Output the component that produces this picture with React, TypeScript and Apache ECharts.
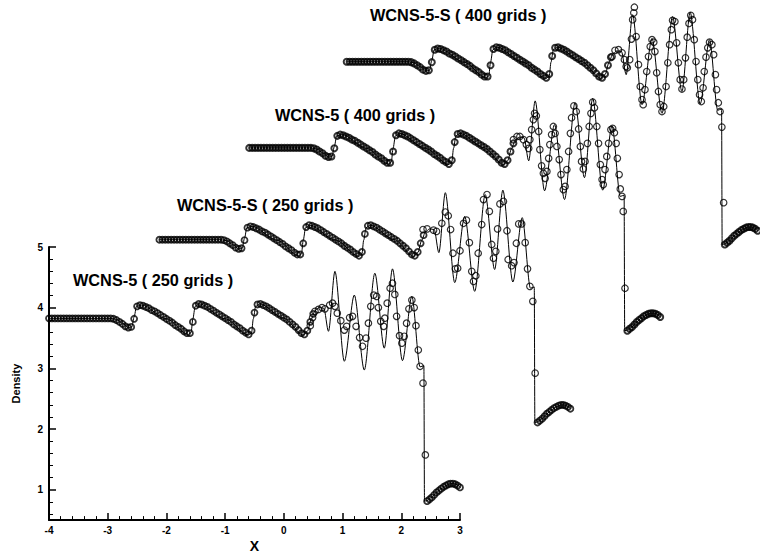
import React, { useEffect, useRef } from "react";
import * as echarts from "echarts";

// Axis ticks
const xTicks = [-4, -3, -2, -1, 0, 1, 2, 3];
const yMajorTicks = [1, 2, 3, 4, 5];
const yMinorTicks = [0.6, 0.8, 1.2, 1.4, 1.6, 1.8, 2.2, 2.4, 2.6, 2.8, 3.2, 3.4, 3.6, 3.8, 4.2, 4.4, 4.6, 4.8];

// The four runs, stacked with an offset in x and in density
const curveTitles = ["WCNS-5 ( 250 grids )", "WCNS-5-S ( 250 grids )", "WCNS-5 ( 400 grids )", "WCNS-5-S ( 400 grids )"];
const curveShiftX = [0, 1.88, 3.41, 5.07];
const curveShiftY = [0, 1.26, 2.73, 4.11];

// Reference (fine-grid) density profile, drawn as the solid line
const exactX = [-4.0, -2.95, -2.85, -2.75, -2.65, -2.59, -2.55, -2.51, -2.42, -2.0, -1.63, -1.58, -1.55, -1.51, -1.44, -1.0, -0.6, -0.55, -0.52, -0.48, -0.41, 0.0, 0.33, 0.4, 0.47, 0.53, 0.6, 0.68, 0.76, 0.87, 1.03, 1.2, 1.37, 1.55, 1.71, 1.85, 2.02, 2.18, 2.32, 2.385, 2.395, 2.44, 2.52, 2.6, 2.68, 2.76, 2.84, 2.9, 2.96, 3.0];
const exactRho = [3.857, 3.857, 3.84, 3.78, 3.71, 3.72, 3.88, 4.05, 4.07, 3.85, 3.6, 3.63, 3.85, 4.05, 4.09, 3.85, 3.59, 3.63, 3.85, 4.05, 4.09, 3.86, 3.59, 3.65, 3.85, 3.98, 4.03, 4.02, 3.65, 4.61, 3.17, 4.23, 3.03, 4.58, 3.38, 4.65, 3.18, 4.21, 3.08, 3.1, 0.93, 0.94, 0.99, 1.07, 1.13, 1.18, 1.21, 1.21, 1.19, 1.15];

// Computed values ahead of the high-frequency zone (x = -4 .. 0.5, step 0.05)
const preWaveStartX = -4;
const preWaveStep = 0.05;
const preWaveRho = [
  3.857, 3.857, 3.857, 3.857, 3.857, 3.857, 3.857, 3.857, 3.857, 3.857, 3.857,
  3.857, 3.857, 3.857, 3.857, 3.857, 3.857, 3.857, 3.857, 3.857, 3.857, 3.857,
  3.85, 3.83, 3.8, 3.77, 3.73, 3.71, 3.72, 3.85, 4.05, 4.07, 4.06, 4.04, 4.02, 3.99,
  3.97, 3.94, 3.91, 3.88, 3.85, 3.82, 3.79, 3.75, 3.72, 3.69, 3.65, 3.62, 3.62, 3.8,
  4.06, 4.09, 4.08, 4.06, 4.04, 4.01, 3.98, 3.95, 3.92, 3.89, 3.86, 3.83, 3.8, 3.76,
  3.73, 3.7, 3.66, 3.63, 3.6, 3.66, 3.95, 4.08, 4.09, 4.07, 4.05, 4.02, 3.99, 3.96,
  3.93, 3.9, 3.87, 3.84, 3.8, 3.76, 3.72, 3.67, 3.62, 3.6, 3.66, 3.8, 3.93,
];

// Computed values behind the shock (x = 2.44 .. 3.0, step 0.04)
const postShockStartX = 2.44;
const postShockStep = 0.04;
const postShockRho = [0.93, 0.96, 0.99, 1.03, 1.07, 1.1, 1.13, 1.16, 1.18, 1.2, 1.21, 1.21, 1.2, 1.18, 1.15];

// Computed values in the high-frequency zone, one list per run: [x, density]
const wcns5Grid250: [number, number][] = [
  [0.45, 3.74], [0.49, 3.87], [0.53, 3.97], [0.59, 4.0], [0.65, 4.03], [0.7, 4.01], [0.78, 4.07], [0.83, 4.1],
  [0.87, 4.05], [0.91, 3.94], [0.97, 3.82], [1.03, 3.67], [1.07, 3.73], [1.12, 3.87], [1.17, 3.89], [1.23, 3.73],
  [1.29, 3.55], [1.34, 3.41], [1.4, 3.54], [1.44, 3.78], [1.48, 4.05], [1.53, 4.23], [1.58, 4.21], [1.61, 4.03],
  [1.65, 3.81], [1.7, 3.73], [1.72, 3.86], [1.76, 4.1], [1.81, 4.34], [1.85, 4.42], [1.89, 4.24], [1.92, 3.89],
  [1.97, 3.58], [2.01, 3.46], [2.05, 3.57], [2.09, 3.78], [2.13, 4.01], [2.18, 4.15], [2.22, 4.03], [2.25, 3.74],
  [2.29, 3.35], [2.32, 3.09], [2.37, 2.82], [2.41, 1.67],
];
const wcns5sGrid250: [number, number][] = [
  [0.49, 4.02], [0.56, 4.03], [0.67, 4.01], [0.72, 3.99], [0.81, 4.12], [0.87, 4.3], [0.92, 4.24], [0.96, 4.02],
  [1.0, 3.64], [1.04, 3.39], [1.08, 3.4], [1.12, 3.68], [1.18, 4.12], [1.23, 4.17], [1.28, 3.81], [1.32, 3.35],
  [1.35, 3.19], [1.39, 3.28], [1.43, 3.64], [1.49, 4.1], [1.52, 4.5], [1.58, 4.58], [1.62, 4.31], [1.66, 3.78],
  [1.69, 3.56], [1.73, 3.67], [1.76, 4.03], [1.8, 4.43], [1.86, 4.47], [1.92, 4.0], [1.94, 3.54], [2.0, 3.44],
  [2.04, 3.49], [2.08, 3.8], [2.12, 4.11], [2.17, 4.11], [2.23, 3.81], [2.27, 3.39], [2.31, 3.11], [2.36, 2.87],
  [2.4, 1.72],
];
const wcns5Grid400: [number, number][] = [
  [0.5, 3.99], [0.56, 4.04], [0.61, 4.04], [0.67, 3.99], [0.72, 3.91], [0.76, 3.85], [0.78, 3.99], [0.81, 4.15],
  [0.84, 4.31], [0.86, 4.41], [0.89, 4.37], [0.93, 4.12], [0.95, 3.83], [0.98, 3.57], [1.01, 3.45], [1.04, 3.37],
  [1.07, 3.48], [1.1, 3.69], [1.12, 3.91], [1.15, 4.07], [1.18, 4.2], [1.21, 4.09], [1.24, 3.88], [1.28, 3.67],
  [1.31, 3.43], [1.35, 3.19], [1.38, 3.24], [1.41, 3.51], [1.44, 3.8], [1.47, 4.09], [1.49, 4.34], [1.53, 4.53],
  [1.57, 4.44], [1.61, 4.16], [1.64, 3.88], [1.66, 3.64], [1.69, 3.52], [1.72, 3.64], [1.76, 3.93], [1.79, 4.2],
  [1.82, 4.41], [1.85, 4.59], [1.88, 4.5], [1.92, 4.2], [1.95, 3.93], [1.98, 3.59], [2.01, 3.35], [2.03, 3.27],
  [2.06, 3.51], [2.09, 3.72], [2.12, 3.93], [2.16, 4.15], [2.19, 4.17], [2.22, 4.1], [2.25, 3.93], [2.27, 3.69],
  [2.3, 3.43], [2.32, 3.2], [2.35, 3.08], [2.37, 2.84], [2.4, 1.61],
];
const wcns5sGrid400: [number, number][] = [
  [0.52, 3.94], [0.57, 4.04], [0.63, 4.05], [0.69, 4.0], [0.73, 3.89], [0.76, 3.78], [0.78, 3.76], [0.82, 3.89],
  [0.85, 4.22], [0.87, 4.53], [0.89, 4.64], [0.9, 4.73], [0.93, 4.26], [0.97, 3.81], [1.0, 3.46], [1.03, 3.25],
  [1.05, 3.17], [1.08, 3.41], [1.11, 3.7], [1.14, 3.94], [1.17, 4.1], [1.2, 4.21], [1.23, 4.17], [1.25, 4.02],
  [1.28, 3.68], [1.31, 3.38], [1.34, 3.17], [1.37, 3.06], [1.4, 3.14], [1.44, 3.46], [1.47, 3.84], [1.5, 4.13],
  [1.53, 4.37], [1.55, 4.52], [1.59, 4.5], [1.62, 4.16], [1.65, 3.84], [1.68, 3.57], [1.71, 3.42], [1.74, 3.57],
  [1.77, 3.92], [1.8, 4.25], [1.83, 4.47], [1.86, 4.6], [1.89, 4.53], [1.92, 4.21], [1.95, 3.86], [1.98, 3.57],
  [2.01, 3.33], [2.04, 3.22], [2.07, 3.44], [2.09, 3.7], [2.12, 3.93], [2.15, 4.08], [2.18, 4.17], [2.22, 4.13],
  [2.25, 3.97], [2.28, 3.65], [2.3, 3.41], [2.33, 3.2], [2.36, 3.06], [2.39, 2.81], [2.42, 1.6],
];
const highFreqPoints = [wcns5Grid250, wcns5sGrid250, wcns5Grid400, wcns5sGrid400];

const W = 760;
const H = 559;
const FONT = '"Liberation Sans", Arial, sans-serif';

export default function App() {
  const ref = useRef<HTMLDivElement>(null);

  useEffect(() => {
    document.body.style.margin = "0";
    if (!ref.current) return;
    const chart = echarts.init(ref.current, undefined, { renderer: "svg" });

    // Framed plot area (x -4..3, density 0.5..5)
    const plotLeft = 49;
    const plotTop = 247;
    const plotWidth = 411;
    const plotHeight = 281;
    const xMin = -4, xMax = 3, yMin = 0.5, yMax = 5;
    const pxPerX = plotWidth / (xMax - xMin);
    const pxPerY = plotHeight / (yMax - yMin);
    // Unframed full-canvas area with the same scale, for the shifted runs
    const fullRight = W - plotLeft;
    const fullBottom = plotTop + plotHeight;
    const fullXMax = xMin + fullRight / pxPerX;
    const fullYMax = yMin + fullBottom / pxPerY;

    const preWave: [number, number][] = preWaveRho.map((r, i) => [preWaveStartX + i * preWaveStep, r]);
    const postShock: [number, number][] = postShockRho.map((r, i) => [postShockStartX + i * postShockStep, r]);

    const circleStyle = (w: number) => ({ color: "rgba(255,255,255,0)", borderColor: "#000", borderWidth: w });

    const series: any[] = [];
    curveTitles.forEach((name, k) => {
      const dx = curveShiftX[k];
      const dy = curveShiftY[k];
      const shift = (pts: [number, number][]) => pts.map(([x, r]) => [x + dx, r + dy]);
      series.push({
        name: name + " exact",
        type: "line",
        xAxisIndex: 1,
        yAxisIndex: 2,
        data: exactX.map((x, i) => [x + dx, exactRho[i] + dy]),
        smooth: 0.3,
        smoothMonotone: "x",
        showSymbol: false,
        symbol: "none",
        silent: true,
        lineStyle: { color: "#000", width: 1 },
        z: 2,
      });
      // densely packed circles in the smooth parts merge into a heavy band
      series.push({
        name,
        type: "scatter",
        xAxisIndex: 1,
        yAxisIndex: 2,
        data: shift([...preWave, ...postShock]),
        symbol: "circle",
        symbolSize: 6,
        silent: true,
        itemStyle: circleStyle(k >= 2 ? 2 : 1.8),
        z: 3,
      });
      series.push({
        name,
        type: "scatter",
        xAxisIndex: 1,
        yAxisIndex: 2,
        data: shift(highFreqPoints[k]),
        symbol: "circle",
        symbolSize: 6.5,
        silent: true,
        itemStyle: circleStyle(1.2),
        z: 3,
      });
    });

    const titlePos = [
      [73, 280],
      [177, 205],
      [275, 115],
      [370, 15],
    ];

    const labelStyle = { color: "#000", fontWeight: "bold" as const, fontSize: 10, fontFamily: FONT };

    chart.setOption({
      animation: false,
      backgroundColor: "#fff",
      grid: [
        { left: plotLeft, top: plotTop, width: plotWidth, height: plotHeight, containLabel: false },
        { left: plotLeft, top: 0, width: fullRight, height: fullBottom, containLabel: false },
      ],
      xAxis: [
        {
          gridIndex: 0,
          type: "value",
          position: "bottom",
          min: xMin,
          max: xMax,
          interval: 1,
          axisLine: { show: true, onZero: false, lineStyle: { color: "#000", width: 2 } },
          axisTick: { show: true, inside: true, length: 7, lineStyle: { color: "#000", width: 1.5 } },
          minorTick: { show: true, splitNumber: 5, length: 4, lineStyle: { color: "#000", width: 1 } },
          splitLine: { show: false },
          minorSplitLine: { show: false },
          axisLabel: { ...labelStyle, margin: 5, customValues: xTicks },
          name: "X",
          nameLocation: "middle",
          nameGap: 19,
          nameTextStyle: { color: "#000", fontWeight: "bold", fontSize: 14, fontFamily: FONT },
        },
        { gridIndex: 1, type: "value", min: xMin, max: fullXMax, show: false, splitLine: { show: false } },
      ],
      yAxis: [
        {
          gridIndex: 0,
          type: "value",
          position: "left",
          min: yMin,
          max: yMax,
          axisLine: { show: true, onZero: false, lineStyle: { color: "#000", width: 2 } },
          axisTick: { show: true, inside: true, length: 7, customValues: yMajorTicks, lineStyle: { color: "#000", width: 1.5 } },
          splitLine: { show: false },
          axisLabel: { ...labelStyle, margin: 6, customValues: yMajorTicks },
          name: "Density",
          nameLocation: "middle",
          nameGap: 28,
          nameRotate: 90,
          nameTextStyle: { color: "#000", fontWeight: "bold", fontSize: 11, fontFamily: FONT },
        },
        {
          gridIndex: 0,
          type: "value",
          position: "left",
          offset: 0,
          min: yMin,
          max: yMax,
          axisLine: { show: false, onZero: false },
          axisTick: { show: true, inside: true, length: 4, customValues: yMinorTicks, lineStyle: { color: "#000", width: 1 } },
          axisLabel: { show: false },
          splitLine: { show: false },
        },
        { gridIndex: 1, type: "value", min: yMin, max: fullYMax, show: false, splitLine: { show: false } },
      ],
      graphic: curveTitles.map((t, k) => ({
        type: "text",
        x: titlePos[k][0],
        y: titlePos[k][1],
        silent: true,
        style: {
          text: t,
          fill: "#000",
          font: `bold 16.3px ${FONT}`,
          align: "left",
          verticalAlign: "middle",
        },
      })),
      series,
    });

    return () => {
      chart.dispose();
    };
  }, []);

  return <div ref={ref} style={{ width: W, height: H }} />;
}
